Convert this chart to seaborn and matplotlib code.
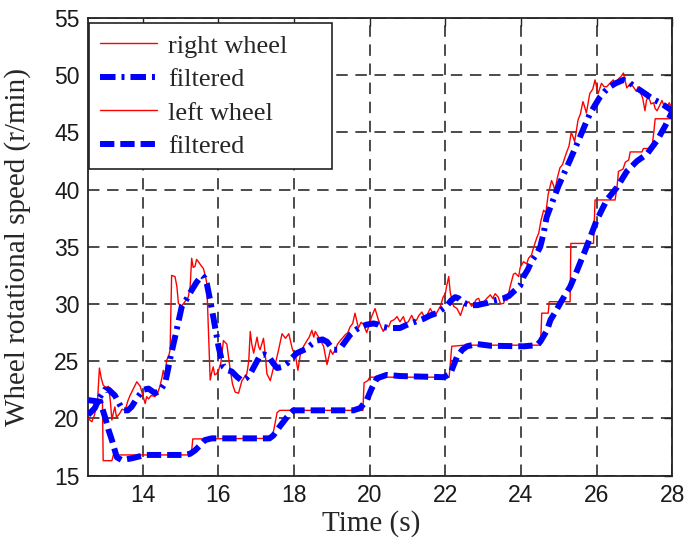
import numpy as np
import pandas as pd
import matplotlib
matplotlib.use("Agg")
import matplotlib.pyplot as plt
import seaborn as sns

# ---------------- data ----------------
right_t = [12.55, 12.65, 12.72, 12.8, 12.85, 12.9, 12.95, 13.02, 13.09, 13.14, 13.18, 13.22, 13.26, 13.3,
           13.38, 13.45, 13.53, 13.6, 13.66, 13.75, 13.84, 13.93, 14.0, 14.06, 14.1, 14.15, 14.22, 14.32,
           14.4, 14.45, 14.5, 14.54, 14.58, 14.63, 14.68, 14.72, 14.76, 14.85, 14.9, 14.94, 15.02, 15.11,
           15.2, 15.25, 15.29, 15.33, 15.38, 15.42, 15.47, 15.53, 15.6, 15.65, 15.69, 15.78, 15.82, 15.86,
           15.9, 15.95, 16.0, 16.06, 16.13, 16.22, 16.3, 16.37, 16.44, 16.53, 16.62, 16.75, 16.8, 16.84,
           16.88, 16.93, 17.02, 17.06, 17.1, 17.19, 17.24, 17.28, 17.37, 17.46, 17.52, 17.59, 17.68, 17.77,
           17.86, 17.95, 18.04, 18.1, 18.17, 18.25, 18.34, 18.4, 18.47, 18.52, 18.56, 18.63, 18.7, 18.78,
           18.87, 18.96, 19.02, 19.09, 19.15, 19.22, 19.3, 19.35, 19.42, 19.48, 19.55, 19.61, 19.7, 19.77,
           19.84, 19.92, 20.0, 20.05, 20.14, 20.23, 20.3, 20.36, 20.45, 20.5, 20.56, 20.63, 20.67, 20.72,
           20.8, 20.89, 20.95, 21.02, 21.11, 21.18, 21.24, 21.3, 21.38, 21.45, 21.51, 21.6, 21.67, 21.73,
           21.8, 21.87, 21.94, 22.0, 22.03, 22.09, 22.13, 22.18, 22.22, 22.31, 22.4, 22.49, 22.55, 22.62,
           22.7, 22.75, 22.82, 22.88, 22.95, 23.02, 23.1, 23.19, 23.25, 23.32, 23.4, 23.46, 23.54, 23.59,
           23.63, 23.72, 23.8, 23.85, 23.94, 23.98, 24.07, 24.15, 24.2, 24.28, 24.34, 24.42, 24.47, 24.53,
           24.6, 24.66, 24.72, 24.81, 24.86, 24.9, 24.96, 25.03, 25.1, 25.2, 25.27, 25.33, 25.38, 25.42,
           25.51, 25.57, 25.64, 25.68, 25.73, 25.82, 25.9, 25.96, 26.0, 26.04, 26.13, 26.2, 26.27, 26.35,
           26.44, 26.5, 26.58, 26.65, 26.71, 26.76, 26.8, 26.9, 26.97, 27.05, 27.1, 27.15, 27.22, 27.28,
           27.32, 27.37, 27.44, 27.51, 27.55, 27.6, 27.66, 27.73, 27.8, 27.86, 27.92, 27.95, 28.0]
right_raw = [20.0, 19.7, 20.3, 21.5, 24.4, 23.5, 22.9, 22.7, 22.8, 21.5, 19.85, 20.5, 21.0, 20.1,
             20.4, 20.8, 20.7, 21.5, 22.0, 22.6, 23.2, 22.8, 22.0, 21.3, 21.9, 21.7, 22.0, 21.9,
             22.3, 22.8, 23.5, 24.2, 23.6, 25.1, 25.4, 26.0, 32.5, 32.4, 31.5, 30.05, 29.8, 30.2,
             30.6, 31.5, 34.0, 33.2, 33.3, 33.9, 33.7, 33.4, 33.1, 32.5, 31.8, 23.35, 24.0, 24.5,
             23.8, 23.9, 24.2, 24.8, 26.8, 26.5, 24.5, 23.0, 22.3, 22.2, 23.3, 23.9, 25.0, 27.6,
             26.5, 25.7, 27.1, 26.3, 26.0, 27.0, 25.5, 23.9, 23.3, 24.5, 25.0, 26.0, 27.4, 27.0,
             27.4, 26.1, 25.4, 24.2, 25.7, 26.3, 26.8, 27.1, 27.7, 27.1, 27.6, 27.2, 26.8, 26.3,
             24.7, 26.0, 25.6, 26.0, 26.5, 26.8, 27.1, 27.3, 27.5, 28.0, 28.3, 29.2, 27.9, 28.4,
             28.2, 27.5, 28.3, 28.9, 29.6, 28.6, 28.0, 27.6, 28.1, 28.0, 28.5, 28.6, 28.7, 28.9,
             28.45, 28.9, 28.3, 28.45, 29.0, 28.5, 28.6, 29.0, 29.3, 28.8, 29.0, 29.6, 29.2, 29.0,
             29.4, 29.8, 30.6, 30.9, 31.5, 32.4, 31.0, 30.3, 29.8, 29.6, 29.0, 29.9, 30.0, 30.2,
             29.8, 30.0, 30.4, 30.5, 29.9, 30.2, 30.5, 30.8, 30.5, 30.9, 30.6, 30.0, 30.05, 30.6,
             30.3, 31.6, 32.6, 32.7, 32.4, 33.2, 33.7, 33.5, 34.0, 34.3, 35.0, 35.8, 36.2, 37.3,
             38.2, 38.0, 39.6, 40.8, 40.4, 39.9, 41.0, 41.9, 42.2, 43.2, 43.8, 45.0, 44.6, 44.2,
             46.1, 46.6, 47.7, 47.3, 46.7, 48.4, 48.8, 49.6, 49.0, 48.4, 49.3, 49.0, 49.0, 49.3,
             49.6, 49.2, 49.7, 49.9, 50.2, 49.5, 48.9, 49.3, 49.0, 48.6, 49.0, 48.6, 48.0, 46.9,
             47.8, 48.2, 47.5, 47.6, 47.1, 46.9, 47.3, 47.8, 47.2, 47.1, 47.6, 47.4, 46.8]

right_filt_t = [12.55, 12.73, 12.85, 12.99, 13.1, 13.26, 13.37, 13.48, 13.6, 13.7, 13.85, 14.01, 14.15,
                14.32, 14.45, 14.59, 14.66, 14.72, 14.85, 14.95, 15.03, 15.15, 15.29, 15.42, 15.56, 15.63,
                15.69, 15.78, 15.86, 15.93, 16.0, 16.07, 16.13, 16.25, 16.35, 16.5, 16.62, 16.73, 16.84,
                16.97, 17.1, 17.2, 17.33, 17.45, 17.55, 17.68, 17.81, 17.95, 18.07, 18.2, 18.34, 18.47,
                18.6, 18.75, 18.87, 18.96, 19.05, 19.15, 19.26, 19.37, 19.48, 19.62, 19.75, 19.92, 20.1,
                20.23, 20.36, 20.5, 20.63, 20.8, 20.93, 21.07, 21.25, 21.42, 21.6, 21.77, 21.9, 22.03,
                22.15, 22.26, 22.35, 22.44, 22.57, 22.71, 22.85, 22.97, 23.12, 23.28, 23.4, 23.54, 23.68,
                23.81, 23.98, 24.07, 24.18, 24.29, 24.4, 24.51, 24.6, 24.68, 24.84, 24.99, 25.15, 25.3,
                25.43, 25.56, 25.7, 25.82, 25.96, 26.09, 26.22, 26.35, 26.5, 26.71, 26.85, 26.97, 27.15,
                27.33, 27.5, 27.68, 27.82, 28.0]
right_filt = [20.3, 20.9, 21.8, 22.5, 22.5, 22.0, 21.3, 20.7, 20.7, 21.0, 21.8, 22.5, 22.6,
              22.2, 22.4, 23.1, 24.2, 25.2, 27.1, 28.6, 29.8, 30.4, 31.2, 31.9, 32.5, 32.3,
              31.8, 30.3, 28.9, 27.6, 26.3, 25.3, 24.5, 24.2, 24.1, 23.6, 23.3, 23.5, 23.9,
              24.7, 25.5, 25.6, 25.4, 24.8, 24.4, 24.5, 24.8, 25.3, 25.7, 25.9, 26.1, 26.5,
              26.8, 26.9, 26.7, 26.3, 26.0, 26.0, 26.3, 26.8, 27.3, 27.7, 28.0, 28.2, 28.3,
              28.2, 28.0, 27.9, 27.9, 27.9, 28.1, 28.3, 28.5, 28.7, 29.0, 29.2, 29.5, 29.8,
              30.3, 30.6, 30.5, 30.2, 30.0, 29.9, 29.9, 30.0, 30.1, 30.3, 30.4, 30.5, 30.7,
              31.1, 31.6, 32.4, 33.0, 33.8, 34.3, 35.0, 36.2, 37.6, 39.0, 40.3, 41.5, 42.6,
              43.6, 44.6, 45.7, 46.6, 47.4, 48.1, 48.6, 49.0, 49.3, 49.6, 49.4, 49.1, 48.7,
              48.3, 47.9, 47.6, 47.3, 46.9]

left_t = [12.55, 12.93, 12.95, 13.18, 13.22, 15.28, 15.32, 17.42, 17.48, 17.55, 17.62, 19.82, 19.85,
          19.95, 20.0, 22.1, 22.17, 22.5, 24.52, 24.55, 24.72, 24.75, 25.3, 25.32, 25.92, 25.96,
          26.49, 26.54, 26.58, 26.7, 26.76, 26.85, 26.89, 27.2, 27.24, 27.46, 27.51, 27.55, 27.95, 28.0]
left_raw = [21.6, 21.6, 16.3, 16.3, 16.8, 16.8, 18.2, 18.25, 19.3, 20.5, 20.7, 20.7, 23.1,
            23.3, 23.6, 23.6, 26.3, 26.4, 26.4, 29.2, 29.2, 30.2, 30.2, 35.3, 35.3, 39.1,
            39.1, 40.2, 41.6, 41.8, 42.4, 42.6, 43.3, 43.3, 43.6, 43.6, 44.9, 46.2, 46.2, 46.8]

left_filt_t = [12.55, 12.87, 13.0, 13.09, 13.18, 13.31, 13.44, 13.7, 14.06, 15.11, 15.25, 15.38, 15.5,
               15.64, 15.82, 17.35, 17.45, 17.6, 17.81, 17.98, 18.3, 19.57, 19.75, 19.92, 20.05, 20.19,
               20.45, 20.8, 21.96, 22.13, 22.31, 22.45, 22.57, 22.84, 23.19, 24.07, 24.42, 24.51, 24.6,
               24.69, 24.78, 24.91, 25.08, 25.3, 25.48, 25.7, 25.85, 26.0, 26.27, 26.54, 26.8, 27.07,
               27.33, 27.6, 27.82, 28.0]
left_filt = [21.6, 21.45, 20.1, 19.0, 18.1, 16.6, 16.35, 16.5, 16.8, 16.8, 16.9, 17.2, 17.6,
             18.1, 18.25, 18.25, 18.5, 19.2, 20.1, 20.7, 20.7, 20.7, 20.9, 21.6, 22.6, 23.5,
             23.8, 23.7, 23.6, 23.9, 25.4, 26.0, 26.3, 26.5, 26.35, 26.3, 26.4, 26.7, 27.2,
             27.7, 28.6, 29.3, 30.3, 31.5, 32.9, 34.7, 36.0, 37.3, 39.1, 40.2, 41.6, 42.5,
             43.1, 44.3, 45.6, 46.8]

legend_labels = ["right wheel", "filtered", "left wheel", "filtered"]
x_ticks = [14, 16, 18, 20, 22, 24, 26, 28]
y_ticks = [15, 20, 25, 30, 35, 40, 45, 50, 55]

# ---------------- style ----------------
sns.set_style("white")
plt.rcParams["font.family"] = ["Liberation Sans", "DejaVu Sans"]
serif = ["Liberation Serif", "DejaVu Serif"]

fig = plt.figure(figsize=(6.88, 5.4), dpi=100)
ax = fig.add_axes([0.128, 0.1194, 0.849, 0.847])

RED = "#ff0000"
BLUE = "#0000ff"

df_r = pd.DataFrame({"t": right_t, "v": right_raw})
df_rf = pd.DataFrame({"t": right_filt_t, "v": right_filt})
df_l = pd.DataFrame({"t": left_t, "v": left_raw})
df_lf = pd.DataFrame({"t": left_filt_t, "v": left_filt})

sns.lineplot(data=df_r, x="t", y="v", ax=ax, color=RED, lw=1.0, estimator=None,
             label=legend_labels[0], zorder=3)
sns.lineplot(data=df_rf, x="t", y="v", ax=ax, color=BLUE, lw=4.3, estimator=None,
             linestyle=(0, (2.6, 1.0, 0.5, 1.0)), label=legend_labels[1], zorder=4)
sns.lineplot(data=df_l, x="t", y="v", ax=ax, color=RED, lw=1.0, estimator=None,
             label=legend_labels[2], zorder=3)
sns.lineplot(data=df_lf, x="t", y="v", ax=ax, color=BLUE, lw=4.3, estimator=None,
             linestyle=(0, (2.4, 1.0)), label=legend_labels[3], zorder=4)

ax.set_xlim(12.55, 28)
ax.set_ylim(15, 55)
ax.set_xticks(x_ticks)
ax.set_yticks(y_ticks)
ax.grid(True, color="#1a1a1a", linestyle=(0, (7.5, 5)), lw=1.1)
ax.set_axisbelow(True)
for s in ax.spines.values():
    s.set_visible(True)
    s.set_color("#222222")
    s.set_linewidth(1.3)
ax.tick_params(direction="in", length=6, width=1.0, top=True, right=True,
               labelsize=16.5, colors="#222222", labelcolor="#1a1a1a", pad=6)

ax.set_xlabel("Time (s)", family=serif, fontsize=21)
ax.xaxis.set_label_coords(0.485, -0.075)
ax.set_ylabel("Wheel rotational speed (r/min)", family=serif, fontsize=21)
ax.yaxis.set_label_coords(-0.098, 0.5)

leg = ax.legend(loc="upper left", bbox_to_anchor=(0.002, 0.672, 0.416, 0.317), mode="expand",
                borderaxespad=0, prop={"family": serif, "size": 19}, frameon=True, fancybox=False,
                handlelength=2.15, handletextpad=0.42, labelspacing=0.38, borderpad=0.42)
leg.get_frame().set_edgecolor("#222222")
leg.get_frame().set_linewidth(1.2)
leg.get_frame().set_alpha(1)

fig.savefig("out.png", dpi=100)
